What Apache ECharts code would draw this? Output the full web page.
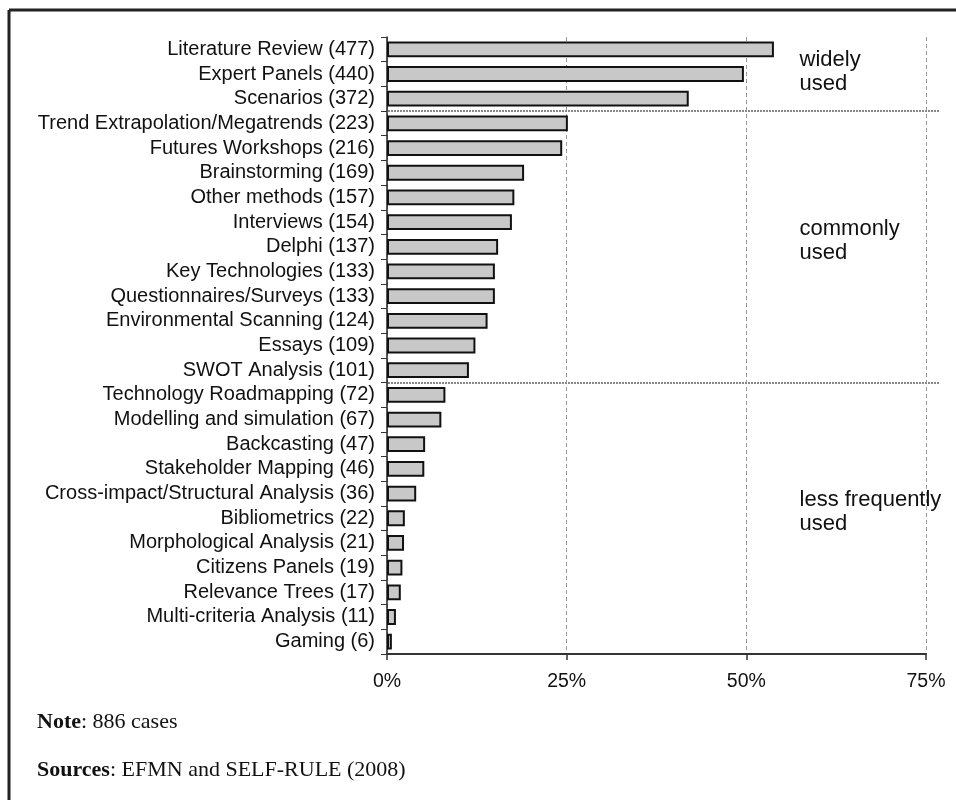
<!DOCTYPE html>
<html><head><meta charset="utf-8">
<script src="https://cdn.jsdelivr.net/npm/echarts@6/dist/echarts.min.js"></script>
<style>html,body{margin:0;padding:0;background:#fff}#c{width:956px;height:800px}</style>
</head><body><div id="c"></div>
<script>
const methods = ["Literature Review","Expert Panels","Scenarios","Trend Extrapolation/Megatrends","Futures Workshops","Brainstorming","Other methods","Interviews","Delphi","Key Technologies","Questionnaires/Surveys","Environmental Scanning","Essays","SWOT Analysis","Technology Roadmapping","Modelling and simulation","Backcasting","Stakeholder Mapping","Cross-impact/Structural Analysis","Bibliometrics","Morphological Analysis","Citizens Panels","Relevance Trees","Multi-criteria Analysis","Gaming"];
const counts = [477,440,372,223,216,169,157,154,137,133,133,124,109,101,72,67,47,46,36,22,21,19,17,11,6];
const totalCases = 886;
const xTicks = [0,25,50,75];
const groupNames = ["widely\nused","commonly\nused","less frequently\nused"];

const categories = methods.map((m,i)=>m+" ("+counts[i]+")");
const pct = counts.map(c=>c/totalCases*100);

const chart = echarts.init(document.getElementById('c'));
const option = {
  animation:false,
  grid:{left:387,right:30,top:37,bottom:146,containLabel:false},
  xAxis:{type:'value',min:xTicks[0],max:xTicks[xTicks.length-1],interval:25,
    axisLine:{show:true,lineStyle:{color:'#333',width:2}},
    axisTick:{show:true,length:6,lineStyle:{color:'#333',width:1.5}},
    axisLabel:{formatter:v=>v+'%',fontFamily:'Liberation Sans, Arial',fontSize:19.5,color:'#111',margin:18},
    splitLine:{show:true,lineStyle:{color:'#999',type:[4,3],width:1}}
  },
  yAxis:{type:'category',data:categories,inverse:true,
    axisLine:{show:true,lineStyle:{color:'#222',width:1.5}},
    axisTick:{show:true,length:6,inside:false,interval:0,lineStyle:{color:'#333',width:1}},
    axisLabel:{interval:0,fontFamily:'Liberation Sans, Arial',fontSize:20,color:'#111',margin:12},
    splitLine:{show:false}
  },
  series:[{type:'bar',data:pct,barWidth:'64%',
    itemStyle:{color:'#c8c8c8',borderColor:'#111',borderWidth:2},
    silent:true}]
};
chart.setOption(option);

function yOf(i){ return chart.convertToPixel({yAxisIndex:0}, categories[i]); }
function yBetween(a,b){ return (yOf(a)+yOf(b))/2; }
const x0 = chart.convertToPixel({xAxisIndex:0}, 0);
const x75 = chart.convertToPixel({xAxisIndex:0}, 75);
const xText = chart.convertToPixel({xAxisIndex:0}, 57.4);
const graphics = [];
graphics.push({type:'line',shape:{x1:9,y1:10,x2:956,y2:10},style:{stroke:'#222',lineWidth:3}});
graphics.push({type:'line',shape:{x1:9,y1:10,x2:9,y2:800},style:{stroke:'#222',lineWidth:3}});
[[2,3],[13,14]].forEach(p=>{
  const y = Math.round(yBetween(p[0],p[1]));
  graphics.push({type:'line',shape:{x1:x0+1,y1:y,x2:x75+14,y2:y},style:{stroke:'#888',lineWidth:2,lineDash:[2,1]}});
});
const groupFirstLineY = [yBetween(0,1)-2, yBetween(7,8)-6, yBetween(18,19)-6];
groupNames.forEach((g,i)=>{
  graphics.push({type:'text',x:xText,y:groupFirstLineY[i]-12,style:{text:g,fontFamily:'Liberation Sans, Arial',fontSize:22,fill:'#111',lineHeight:24,verticalAlign:'top',align:'left'}});
});
const serif = 'Liberation Serif, Times New Roman';
const rich = {b:{fontFamily:serif,fontSize:22,fontWeight:'bold',fill:'#111'},n:{fontFamily:serif,fontSize:22,fill:'#111'}};
graphics.push({type:'text',x:37,y:722,style:{rich:rich,text:'{b|Note}{n|: 886 cases}',verticalAlign:'middle'}});
graphics.push({type:'text',x:37,y:770,style:{rich:rich,text:'{b|Sources}{n|: EFMN and SELF-RULE (2008)}',verticalAlign:'middle'}});
chart.setOption({graphic:graphics});
</script>
</body></html>
